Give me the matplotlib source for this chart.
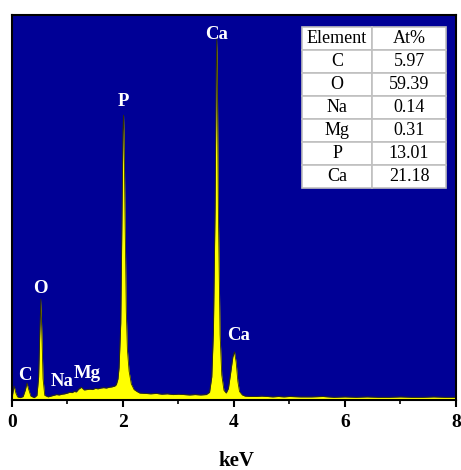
import matplotlib
matplotlib.use("Agg")
import matplotlib.pyplot as plt

# -----------------------------
# Data (arbitrary counts, full scale = 1000)
# -----------------------------
energy_kev = [
    0.00, 0.02, 0.04, 0.07, 0.10, 0.15, 0.20, 0.24, 0.27, 0.30,
    0.34, 0.40, 0.45, 0.48, 0.50, 0.52, 0.54, 0.56, 0.59, 0.65,
    0.70, 0.75, 0.80, 0.85, 0.90, 0.95, 1.00, 1.04, 1.08, 1.12,
    1.16, 1.20, 1.25, 1.30, 1.35, 1.40, 1.45, 1.50, 1.55, 1.60,
    1.65, 1.70, 1.75, 1.80, 1.85, 1.88, 1.91, 1.93, 1.96, 1.98,
    2.00, 2.01, 2.02, 2.04, 2.06, 2.08, 2.11, 2.15, 2.20, 2.25,
    2.30, 2.40, 2.50, 2.60, 2.70, 2.80, 2.90, 3.00, 3.10, 3.20,
    3.30, 3.40, 3.50, 3.56, 3.60, 3.63, 3.66, 3.68, 3.69, 3.70,
    3.72, 3.75, 3.78, 3.82, 3.86, 3.90, 3.94, 3.98, 4.01, 4.04,
    4.07, 4.10, 4.15, 4.20, 4.30, 4.40, 4.50, 4.60, 4.70, 4.80,
    4.90, 5.00, 5.20, 5.40, 5.60, 5.80, 6.00, 6.20, 6.40, 6.60,
    6.80, 7.00, 7.20, 7.40, 7.60, 7.80, 8.00,
]
counts = [
    5, 22, 36, 18, 8, 6, 9, 26, 44, 28,
    10, 6, 12, 60, 170, 262, 165, 55, 12, 8,
    10, 12, 14, 13, 15, 16, 18, 20, 19, 22,
    21, 28, 33, 26, 27, 28, 27, 30, 29, 31,
    32, 31, 33, 34, 36, 40, 55, 85, 200, 450,
    700, 740, 690, 450, 230, 130, 75, 42, 27, 22,
    18, 17, 16, 17, 15, 16, 14, 15, 14, 13,
    14, 13, 14, 20, 60, 180, 500, 860, 940, 850,
    480, 170, 65, 25, 18, 30, 70, 112, 125, 98,
    48, 22, 13, 10, 9, 9, 10, 9, 8, 9,
    8, 9, 8, 8, 9, 7, 8, 7, 8, 7,
    7, 8, 7, 7, 8, 7, 7,
]

peak_labels = ["Ca", "P", "O", "C", "Na", "Mg", "Ca"]
peak_label_x = [3.69, 2.01, 0.52, 0.23, 0.90, 1.36, 4.09]
peak_label_y = [938, 764, 278, 52, 36, 58, 156]

elements = ["C", "O", "Na", "Mg", "P", "Ca"]
at_percent = ["5.97", "59.39", "0.14", "0.31", "13.01", "21.18"]

# -----------------------------
# Figure
# -----------------------------
plt.rcParams["font.family"] = ["Liberation Serif", "DejaVu Serif"]

fig = plt.figure(figsize=(4.61, 4.70), dpi=100)
ax = fig.add_axes([0.026, 0.149, 0.963, 0.819])
ax.set_facecolor("#000096")

ax.fill_between(energy_kev, counts, 0, color="#ffff00", linewidth=0)
ax.plot(energy_kev, counts, color="#333300", linewidth=0.6)

for label, x, y in zip(peak_labels, peak_label_x, peak_label_y):
    ax.text(x, y, label, color="white", fontsize=13.5, fontweight="bold",
            ha="center", va="baseline")

ax.set_xlim(0, 8)
ax.set_ylim(0, 1000)
ax.set_xticks([0, 2, 4, 6, 8])
ax.set_xticks([1, 3, 5, 7], minor=True)
ax.set_yticks([])
ax.tick_params(axis="x", which="major", direction="out", length=5,
               width=1.5, pad=5, labelsize=14)
ax.tick_params(axis="x", which="minor", direction="out", length=3, width=1.2)
for label in ax.get_xticklabels():
    label.set_fontweight("bold")
for spine in ax.spines.values():
    spine.set_linewidth(1.5)

fig.text(236 / 461, 9 / 470, "keV", fontsize=15, fontweight="bold",
         ha="center", va="center")

# -----------------------------
# Table
# -----------------------------
cell_text = [["Element", "At%"]] + [[e, v] for e, v in zip(elements, at_percent)]
table = ax.table(cellText=cell_text, cellLoc="center",
                 bbox=[0.653, 0.551, 0.324, 0.418],
                 colWidths=[0.49, 0.51])
table.auto_set_font_size(False)
table.set_fontsize(13)
for cell in table.get_celld().values():
    cell.set_facecolor("white")
    cell.set_edgecolor("#c0c0c0")
    cell.set_linewidth(1.2)

fig.savefig("out.png", dpi=100)
